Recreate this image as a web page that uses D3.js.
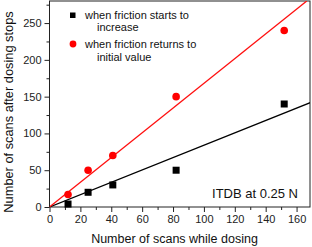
<!DOCTYPE html>
<html><head><meta charset="utf-8">
<script src="https://cdn.jsdelivr.net/npm/d3@7"></script>
<style>body{margin:0;background:#fff}svg{display:block;font-family:"Liberation Sans",Arial,sans-serif}</style>
</head><body><svg id="c" width="312" height="247"></svg>
<script>
const dosingScans = [12, 25, 41, 82, 152];
const startsIncrease = [4, 20, 30, 50, 140];
const returnsInitial = [17, 50, 70, 150, 240];
const blackFit = [[0, 0], [169, 142]];
const redFit = [[0, 0], [166.6, 280]];
const xTicks = [0, 20, 40, 60, 80, 100, 120, 140, 160];
const yTicks = [0, 50, 100, 150, 200, 250];
const legendLabels = [["when friction starts to", "increase"], ["when friction returns to", "initial value"]];
const note = "ITDB at 0.25 N";

const svg = d3.select("#c");
const L = 49.5, R = 310, T = 1, B = 207;
const x = d3.scaleLinear().domain([0, 168.7]).range([L, R]);
const y = d3.scaleLinear().domain([0, 280]).range([B, T]);

svg.append("clipPath").attr("id", "pc").append("rect")
  .attr("x", L).attr("y", T).attr("width", R - L).attr("height", B - T);

// frame
svg.append("rect").attr("x", L).attr("y", T).attr("width", R - L).attr("height", B - T)
  .attr("fill", "none").attr("stroke", "#222").attr("stroke-width", 1);

// axes
const xMinor = d3.range(10, 169, 20);
const yMinor = d3.range(25, 280, 50);
const xa = svg.append("g").attr("transform", `translate(0,${B})`)
  .call(d3.axisBottom(x).tickValues(xTicks).tickSize(5).tickPadding(3).tickFormat(d3.format("d")));
const xm = svg.append("g").attr("transform", `translate(0,${B})`)
  .call(d3.axisBottom(x).tickValues(xMinor).tickSize(3).tickFormat(""));
const ya = svg.append("g").attr("transform", `translate(${L},0)`)
  .call(d3.axisLeft(y).tickValues(yTicks).tickSize(5).tickPadding(3).tickFormat(d3.format("d")));
const ym = svg.append("g").attr("transform", `translate(${L},0)`)
  .call(d3.axisLeft(y).tickValues(yMinor).tickSize(3).tickFormat(""));
[xa, xm, ya, ym].forEach(g => {
  g.select(".domain").remove();
  g.selectAll("line").attr("stroke", "#222");
  g.selectAll("text").attr("font-size", 11).attr("fill", "#222")
    .attr("font-family", "'Liberation Sans',Arial,sans-serif");
});

// fit lines
const line = d3.line().x(d => x(d[0])).y(d => y(d[1]));
const pg = svg.append("g").attr("clip-path", "url(#pc)");
pg.append("path").datum(blackFit).attr("d", line).attr("stroke", "#000").attr("stroke-width", 1.3).attr("fill", "none");
pg.append("path").datum(redFit).attr("d", line).attr("stroke", "#ff1010").attr("stroke-width", 1.3).attr("fill", "none");

// points
const s = 7;
svg.append("g").selectAll("rect").data(dosingScans).join("rect")
  .attr("x", (d) => x(d) - s / 2).attr("y", (d, i) => y(startsIncrease[i]) - s / 2)
  .attr("width", s).attr("height", s).attr("fill", "#000");
svg.append("g").selectAll("circle").data(dosingScans).join("circle")
  .attr("cx", d => x(d)).attr("cy", (d, i) => y(returnsInitial[i])).attr("r", 3.8).attr("fill", "#ff0000");

// legend
const lg = svg.append("g").attr("font-size", 11).attr("fill", "#111");
lg.append("rect").attr("x", 70).attr("y", 12.5).attr("width", 5.5).attr("height", 5.5).attr("fill", "#000");
lg.append("circle").attr("cx", 73).attr("cy", 44).attr("r", 3.4).attr("fill", "#ff0000");
lg.append("text").attr("x", 85).attr("y", 19).text(legendLabels[0][0]);
lg.append("text").attr("x", 97).attr("y", 31).text(legendLabels[0][1]);
lg.append("text").attr("x", 85).attr("y", 48).text(legendLabels[1][0]);
lg.append("text").attr("x", 97).attr("y", 61).text(legendLabels[1][1]);

svg.append("text").attr("x", 298).attr("y", 198).attr("text-anchor", "end")
  .attr("font-size", 13).attr("fill", "#111").text(note);

// axis titles
svg.append("text").attr("x", 174.5).attr("y", 242.5).attr("text-anchor", "middle")
  .attr("font-size", 12.5).attr("fill", "#111").text("Number of scans while dosing");
svg.append("text").attr("transform", "translate(12.5,112) rotate(-90)").attr("text-anchor", "middle")
  .attr("font-size", 12.8).attr("fill", "#111").text("Number of scans after dosing stops");
</script></body></html>
